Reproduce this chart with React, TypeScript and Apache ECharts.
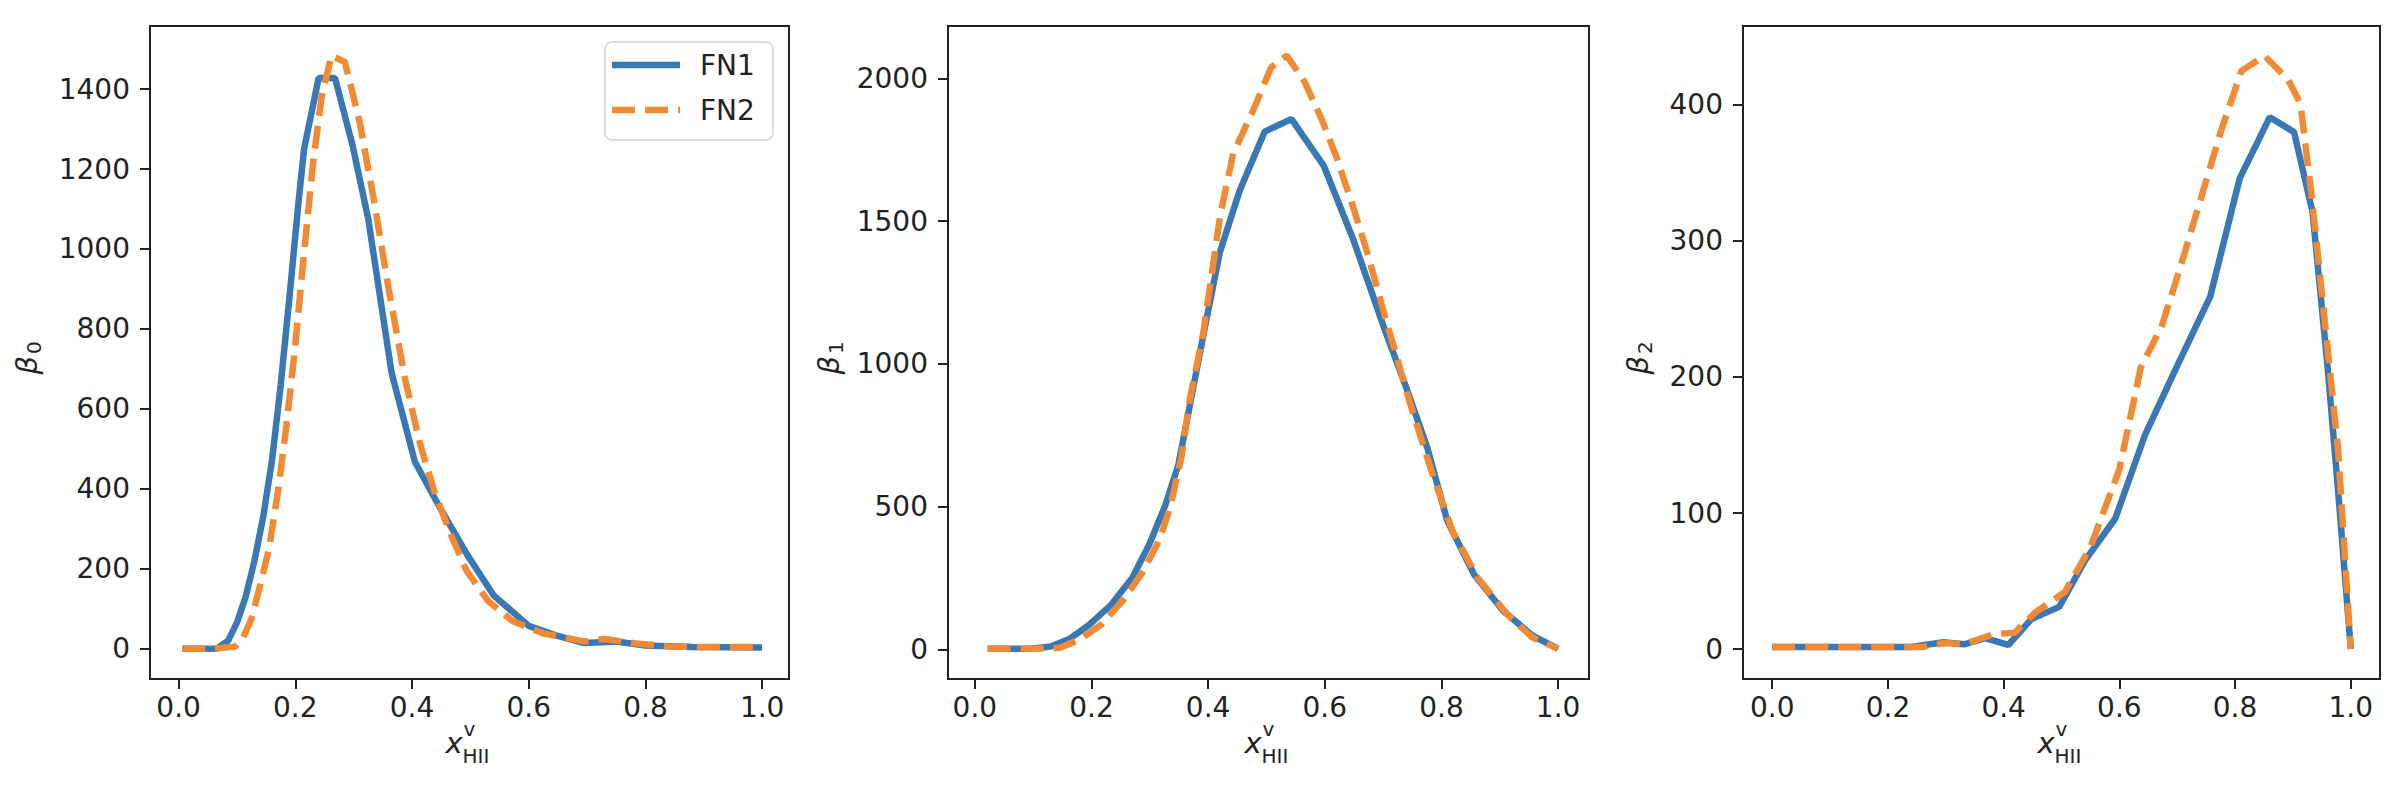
import React, { useEffect, useRef } from 'react';
import * as echarts from 'echarts';

// x ticks shared by all panels
const xTickValues = [0, 0.2, 0.4, 0.6, 0.8, 1.0];
const yTicks0 = [0, 200, 400, 600, 800, 1000, 1200, 1400];
const yTicks1 = [0, 500, 1000, 1500, 2000];
const yTicks2 = [0, 100, 200, 300, 400];

const seriesNames = ['FN1', 'FN2'];

// Panel beta_0
const b0FN1x = [0.006, 0.065, 0.085, 0.1, 0.115, 0.13, 0.145, 0.16, 0.175, 0.19, 0.205, 0.215, 0.24, 0.268, 0.298, 0.325, 0.365, 0.405, 0.45, 0.495, 0.54, 0.6, 0.645, 0.695, 0.75, 0.8, 0.88, 1.0];
const b0FN1y = [0, 0, 20, 65, 130, 220, 330, 470, 660, 880, 1110, 1250, 1428, 1428, 1260, 1075, 690, 467, 347, 234, 133, 57, 34, 14, 18, 8, 4, 3];
const b0FN2x = [0.006, 0.06, 0.097, 0.11, 0.125, 0.14, 0.155, 0.17, 0.185, 0.2, 0.215, 0.23, 0.245, 0.262, 0.285, 0.31, 0.335, 0.36, 0.388, 0.414, 0.44, 0.467, 0.493, 0.53, 0.572, 0.625, 0.695, 0.73, 0.783, 0.836, 0.9, 1.0];
const b0FN2y = [0, 0, 5, 25, 75, 160, 250, 390, 560, 760, 990, 1210, 1380, 1484, 1468, 1320, 1120, 900, 675, 511, 385, 284, 196, 120, 69, 38, 18, 24, 13, 6, 4, 4];

// Panel beta_1
const b1FN1x = [0.022, 0.06, 0.1, 0.13, 0.161, 0.197, 0.234, 0.27, 0.299, 0.327, 0.349, 0.371, 0.393, 0.42, 0.454, 0.497, 0.543, 0.598, 0.649, 0.704, 0.74, 0.776, 0.81, 0.856, 0.906, 0.957, 1.0];
const b1FN1y = [2, 2, 3, 10, 35, 87, 157, 251, 367, 507, 647, 880, 1113, 1390, 1607, 1814, 1858, 1695, 1435, 1113, 915, 705, 450, 262, 134, 47, 2];
const b1FN2x = [0.022, 0.06, 0.1, 0.145, 0.181, 0.217, 0.253, 0.289, 0.318, 0.336, 0.354, 0.369, 0.391, 0.421, 0.443, 0.479, 0.508, 0.535, 0.566, 0.595, 0.62, 0.649, 0.674, 0.703, 0.747, 0.783, 0.819, 0.862, 0.913, 0.956, 1.0];
const b1FN2y = [2, 2, 2, 5, 35, 87, 169, 274, 390, 507, 670, 880, 1100, 1524, 1737, 1897, 2039, 2080, 1986, 1855, 1725, 1547, 1382, 1168, 857, 624, 414, 251, 122, 41, 3];

// Panel beta_2
const b2FN1x = [0.0, 0.08, 0.16, 0.24, 0.296, 0.332, 0.368, 0.408, 0.448, 0.496, 0.542, 0.593, 0.644, 0.702, 0.757, 0.808, 0.86, 0.902, 0.934, 0.96, 0.978, 1.0];
const b2FN1y = [1.5, 1.5, 1.5, 1.5, 5, 3.5, 8, 3, 22, 31, 66, 96, 157, 210, 259, 346, 391, 380, 321, 207, 117, 0];
const b2FN2x = [0.0, 0.08, 0.16, 0.26, 0.296, 0.332, 0.383, 0.419, 0.455, 0.506, 0.55, 0.6, 0.637, 0.673, 0.702, 0.738, 0.775, 0.811, 0.851, 0.891, 0.913, 0.934, 0.956, 0.978, 1.0];
const b2FN2y = [1.5, 1.5, 1.5, 1.5, 4.5, 3.6, 11, 12, 27, 42, 75, 132, 207, 237, 276, 327, 380, 425, 436, 419, 401, 327, 237, 147, 0];

const BLUE = '#3a78b5';
const ORANGE = '#f08a35';
const INK = '#222222';
const FONT = 'DejaVu Sans';
const LINE_W = 6.5;
const DASH = [23, 10];

const zip = (xs: number[], ys: number[]) => xs.map((x, i) => [x, ys[i]]);

const GRID_TOP = 26;
const GRID_H = 653;

const panels = [
  { fn1: zip(b0FN1x, b0FN1y), fn2: zip(b0FN2x, b0FN2y), yTicks: yTicks0, xRange: [-0.049, 1.046], yRange: [-76, 1558], grid: { left: 150, top: GRID_TOP, width: 639, height: GRID_H }, sub: '0', yLabelX: 27 },
  { fn1: zip(b1FN1x, b1FN1y), fn2: zip(b1FN2x, b1FN2y), yTicks: yTicks1, xRange: [-0.046, 1.053], yRange: [-104, 2184], grid: { left: 948, top: GRID_TOP, width: 641, height: GRID_H }, sub: '1', yLabelX: 829 },
  { fn1: zip(b2FN1x, b2FN1y), fn2: zip(b2FN2x, b2FN2y), yTicks: yTicks2, xRange: [-0.0505, 1.0505], yRange: [-22, 458], grid: { left: 1743, top: GRID_TOP, width: 637, height: GRID_H }, sub: '2', yLabelX: 1638 },
];

export default function App() {
  const ref = useRef<HTMLDivElement>(null);
  useEffect(() => {
    if (!ref.current) return;
    const chart = echarts.init(ref.current, null, { renderer: 'svg' });
    const grids = panels.map((p) => ({
      ...p.grid,
      show: true,
      borderColor: INK,
      borderWidth: 2,
      backgroundColor: 'transparent',
    }));
    const xAxes = panels.map((p, i) => ({
      type: 'value',
      gridIndex: i,
      min: p.xRange[0],
      max: p.xRange[1],
      axisLine: { show: false, onZero: false },
      axisTick: { show: true, length: 10, customValues: xTickValues, lineStyle: { color: INK, width: 2 } },
      axisLabel: {
        customValues: xTickValues,
        formatter: (v: number) => v.toFixed(1),
        fontSize: 28,
        color: INK,
        fontFamily: FONT,
        margin: 14,
      },
      splitLine: { show: false },
    }));
    const yAxes = panels.map((p, i) => ({
      type: 'value',
      gridIndex: i,
      min: p.yRange[0],
      max: p.yRange[1],
      axisLine: { show: false, onZero: false },
      axisTick: { show: true, length: 10, customValues: p.yTicks, lineStyle: { color: INK, width: 2 } },
      axisLabel: {
        customValues: p.yTicks,
        formatter: (v: number) => String(v),
        fontSize: 28,
        color: INK,
        fontFamily: FONT,
        margin: 20,
      },
      splitLine: { show: false },
    }));
    const series: any[] = [];
    panels.forEach((p, i) => {
      series.push({
        name: seriesNames[0],
        type: 'line',
        xAxisIndex: i,
        yAxisIndex: i,
        data: p.fn1,
        symbol: 'none',
        lineStyle: { color: BLUE, width: LINE_W },
        itemStyle: { color: BLUE },
        z: 2,
      });
      series.push({
        name: seriesNames[1],
        type: 'line',
        xAxisIndex: i,
        yAxisIndex: i,
        data: p.fn2,
        symbol: 'none',
        lineStyle: { color: ORANGE, width: LINE_W, type: DASH },
        itemStyle: { color: ORANGE },
        z: 3,
      });
    });

    const graphic: any[] = [];
    panels.forEach((p) => {
      const cx = p.grid.left + p.grid.width / 2;
      // x label: x^v_HII
      graphic.push({
        type: 'text', x: cx - 24, y: 743,
        style: { text: 'x', font: `italic 29px "${FONT}"`, fill: INK, align: 'left', verticalAlign: 'middle' },
      });
      graphic.push({
        type: 'text', x: cx - 6, y: 729,
        style: { text: 'v', font: `20px "${FONT}"`, fill: INK, align: 'left', verticalAlign: 'middle' },
      });
      graphic.push({
        type: 'text', x: cx - 7, y: 756,
        style: { text: 'HII', font: `20px "${FONT}"`, fill: INK, align: 'left', verticalAlign: 'middle' },
      });
      // y label: beta_n, rotated
      graphic.push({
        type: 'group', x: p.yLabelX, y: 352, rotation: Math.PI / 2,
        children: [
          { type: 'text', x: -4, y: 0, style: { text: 'β', font: `italic 29px "${FONT}"`, fill: INK, align: 'right', verticalAlign: 'middle' } },
          { type: 'text', x: -2, y: 7, style: { text: p.sub, font: `20px "${FONT}"`, fill: INK, align: 'left', verticalAlign: 'middle' } },
        ],
      });
    });

    // legend (drawn manually, matplotlib-style)
    const lg = { x: 605, y: 42, w: 168, h: 98 };
    graphic.push({
      type: 'rect',
      shape: { x: lg.x, y: lg.y, width: lg.w, height: lg.h, r: 7 },
      style: { fill: 'rgba(255,255,255,0.8)', stroke: '#d4d4d4', lineWidth: 1.5 },
      z: 10,
    });
    const rows = [
      { name: seriesNames[0], y: 65, color: BLUE, dash: null as any },
      { name: seriesNames[1], y: 110, color: ORANGE, dash: DASH },
    ];
    rows.forEach((r) => {
      graphic.push({
        type: 'line',
        shape: { x1: 612, y1: r.y, x2: 680, y2: r.y },
        style: { stroke: r.color, lineWidth: LINE_W, lineDash: r.dash || undefined },
        z: 11,
      });
      graphic.push({
        type: 'text', x: 700, y: r.y,
        style: { text: r.name, font: `28px "${FONT}"`, fill: INK, align: 'left', verticalAlign: 'middle' },
        z: 11,
      });
    });

    chart.setOption({
      animation: false,
      backgroundColor: '#ffffff',
      grid: grids,
      xAxis: xAxes,
      yAxis: yAxes,
      series,
      graphic,
    });
    return () => chart.dispose();
  }, []);
  return <div ref={ref} style={{ position: 'absolute', left: 0, top: 0, width: 2406, height: 792 }} />;
}
